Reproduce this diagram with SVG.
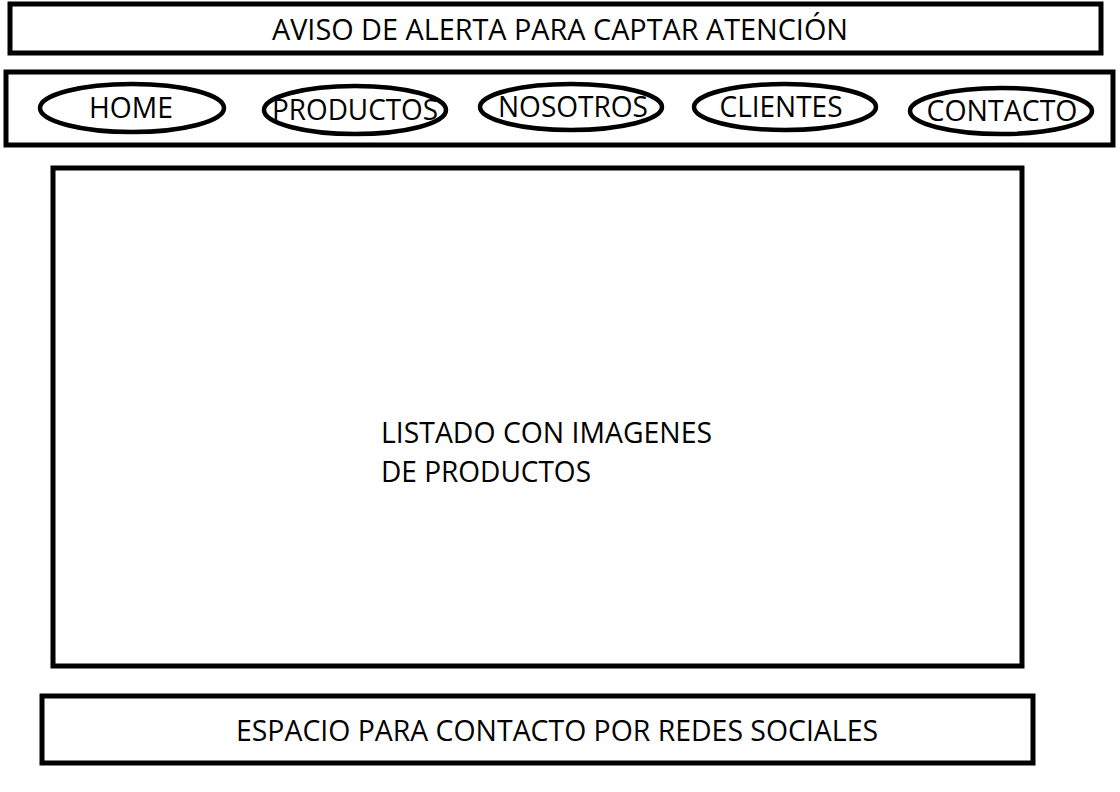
<svg xmlns="http://www.w3.org/2000/svg" width="1120" height="792" viewBox="0 0 1120 792">
<style>
.box{fill:none;stroke:#000;stroke-width:5}
.pill{fill:none;stroke:#000;stroke-width:4.5}
text{font-family:"Open Sans","Noto Sans","Liberation Sans",sans-serif;font-size:30px;fill:#000}
</style>
<rect width="1120" height="792" fill="#fff"/>
<g id="alerta">
<rect class="box" x="10" y="4" width="1091" height="49"/>
<text x="560" y="40" text-anchor="middle" textLength="576" lengthAdjust="spacingAndGlyphs">AVISO DE ALERTA PARA CAPTAR ATENCIÓN</text>
</g>
<g id="nav">
<rect class="box" x="6" y="72" width="1107" height="73"/>
</g>
<g id="home">
<ellipse class="pill" cx="132" cy="108" rx="92" ry="24"/>
<text x="131" y="118" text-anchor="middle" textLength="84" lengthAdjust="spacingAndGlyphs">HOME</text>
</g>
<g id="productos">
<ellipse class="pill" cx="355" cy="110" rx="91" ry="24"/>
<text x="355" y="120" text-anchor="middle" textLength="166" lengthAdjust="spacingAndGlyphs">PRODUCTOS</text>
</g>
<g id="nosotros">
<ellipse class="pill" cx="571" cy="107" rx="91" ry="23"/>
<text x="573" y="117" text-anchor="middle" textLength="150" lengthAdjust="spacingAndGlyphs">NOSOTROS</text>
</g>
<g id="clientes">
<ellipse class="pill" cx="785" cy="107" rx="91" ry="23"/>
<text x="781" y="117" text-anchor="middle" textLength="123" lengthAdjust="spacingAndGlyphs">CLIENTES</text>
</g>
<g id="contacto">
<ellipse class="pill" cx="1001" cy="111" rx="91" ry="23"/>
<text x="1002" y="121" text-anchor="middle" textLength="151" lengthAdjust="spacingAndGlyphs">CONTACTO</text>
</g>
<g id="listado">
<rect class="box" x="53" y="168" width="969" height="498"/>
<text x="381" y="443" textLength="331" lengthAdjust="spacingAndGlyphs">LISTADO CON IMAGENES</text>
<text x="381" y="482" textLength="210" lengthAdjust="spacingAndGlyphs">DE PRODUCTOS</text>
</g>
<g id="redes">
<rect class="box" x="42" y="696" width="991" height="67"/>
<text x="557" y="741" text-anchor="middle" textLength="642" lengthAdjust="spacingAndGlyphs">ESPACIO PARA CONTACTO POR REDES SOCIALES</text>
</g>
<g id="connectors"/>
</svg>
